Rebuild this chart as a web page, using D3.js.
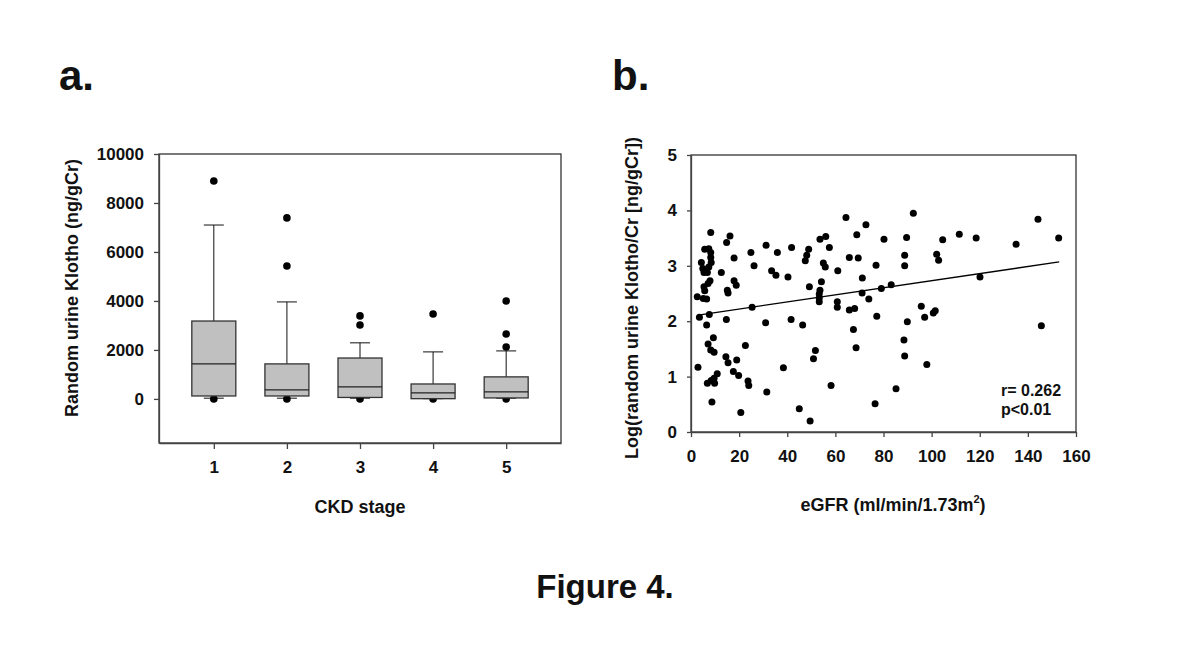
<!DOCTYPE html>
<html lang="en">
<head>
    <meta charset="UTF-8">
    <script src="https://cdn.jsdelivr.net/npm/d3@7"></script>
    <title>Figure 4</title>
    <style>
        body { margin: 0; background: white; }
        svg text { font-family: Arial, "Liberation Sans", sans-serif; font-weight: bold; fill: #111; }
        .axis path, .axis line { stroke: #444; stroke-width: 1.3px; }
        .axis text { font-size: 17px; }
    </style>
</head>
<body>
    <svg id="fig" width="1200" height="662"></svg>
    <script>
        // panel a: box plot of urine Klotho by CKD stage
        const stages = [1, 2, 3, 4, 5];
        const whiskLo = [30, 30, 30, 10, 30];
        const q1 = [120, 120, 60, 10, 40];
        const median = [1430, 370, 490, 245, 290];
        const q3 = [3180, 1430, 1670, 610, 900];
        const whiskHi = [7100, 3960, 2290, 1920, 1960];
        const outliers = [
            [8900, 0],
            [7390, 5430, 0],
            [3390, 3020, 0],
            [3470, 0],
            [4000, 2650, 2120, 0]
        ];
        const aTicks = [0, 2000, 4000, 6000, 8000, 10000];

        // panel b: scatter of log Klotho/Cr vs eGFR
        const egfr = [8.2, 16.2, 14.8, 31.2, 5.7, 7.4, 8.2, 24.9, 17.9, 8.2, 4.3, 8.4, 26.2, 4.9, 7.4, 5.4, 6.8, 12.6, 7.9, 7.1,
            17.9, 18.8, 5.4, 5.7, 15.1, 15.4, 2.6, 5.1, 6.5, 25.4, 3.5, 7.6, 14.7, 31.0, 6.5, 9.3, 7.1, 8.2, 9.6, 22.6,
            14.5, 15.4, 19.0, 2.9, 17.6, 19.8, 10.9, 9.6, 8.4, 6.8, 9.8, 23.7, 24.0, 31.5, 8.7, 20.7,
            35.9, 41.8, 48.9, 48.1, 47.5, 53.6, 56.0, 57.5, 64.4, 72.7, 68.9, 65.8, 69.5, 55.0, 55.8, 61.0, 33.5, 35.3, 40.3, 71.2,
            54.2, 49.2, 53.6, 53.3, 53.3, 53.3, 71.1, 73.9, 60.8, 60.8, 65.8, 68.0, 41.6, 46.4, 67.5, 68.6, 51.7, 50.9, 38.4, 58.2,
            45.0, 49.5,
            92.4, 80.2, 89.6, 104.6, 88.8, 102.1, 102.9, 76.9, 88.8, 79.1, 83.2, 95.7, 97.1, 100.7, 101.5, 77.2, 89.9, 88.5, 88.8, 98.0,
            85.2, 76.5, 111.5, 118.5, 135.1, 144.2, 152.8, 120.1, 145.6];
        const logKlotho = [3.60, 3.54, 3.42, 3.37, 3.30, 3.31, 3.24, 3.24, 3.14, 3.15, 3.06, 3.06, 3.00, 2.95, 2.98, 2.88, 2.88, 2.88, 2.73, 2.68,
            2.73, 2.65, 2.62, 2.55, 2.56, 2.51, 2.44, 2.41, 2.40, 2.25, 2.07, 2.12, 2.03, 1.97, 1.93, 1.70, 1.59, 1.48, 1.44, 1.56,
            1.36, 1.25, 1.30, 1.17, 1.09, 1.02, 1.05, 0.97, 0.93, 0.88, 0.88, 0.92, 0.84, 0.72, 0.54, 0.35,
            3.24, 3.33, 3.30, 3.19, 3.09, 3.48, 3.53, 3.33, 3.87, 3.74, 3.56, 3.15, 3.14, 3.05, 2.98, 2.91, 2.91, 2.83, 2.80, 2.78,
            2.71, 2.62, 2.56, 2.49, 2.42, 2.35, 2.51, 2.40, 2.35, 2.25, 2.20, 2.23, 2.03, 1.93, 1.85, 1.52, 1.47, 1.32, 1.16, 0.84,
            0.42, 0.20,
            3.95, 3.48, 3.51, 3.47, 3.19, 3.21, 3.10, 3.01, 3.00, 2.59, 2.66, 2.27, 2.07, 2.15, 2.19, 2.09, 1.99, 1.66, 1.37, 1.22,
            0.78, 0.51, 3.57, 3.50, 3.39, 3.84, 3.50, 2.80, 1.92];
        const fitX = [3, 153];
        const fitY = [2.11, 3.07];
        const bXTicks = [0, 20, 40, 60, 80, 100, 120, 140, 160];
        const bYTicks = [0, 1, 2, 3, 4, 5];

        const svg = d3.select("#fig");
        const fmt = d3.format("d");

        // ---------- panel a ----------
        const ax = d3.scaleLinear().domain([0.25, 5.75]).range([159, 561]);
        const ay = d3.scaleLinear().domain([-1800, 10000]).range([443, 154]);
        const pa = svg.append("g");

        pa.append("rect")
            .attr("x", 159).attr("y", 154)
            .attr("width", 402).attr("height", 289)
            .attr("fill", "none").attr("stroke", "#222").attr("stroke-width", 1.2);

        pa.append("g").attr("class", "axis")
            .attr("transform", "translate(159,0)")
            .call(d3.axisLeft(ay).tickValues(aTicks).tickFormat(fmt).tickSize(5).tickSizeOuter(0).tickPadding(10));
        pa.append("g").attr("class", "axis")
            .attr("transform", "translate(0,443)")
            .call(d3.axisBottom(ax).tickValues(stages).tickFormat(fmt).tickSize(6).tickSizeOuter(0).tickPadding(12));

        const boxW = 44, capW = 20;
        stages.forEach((s, i) => {
            const cx = ax(s);
            // whiskers
            pa.append("line").attr("x1", cx).attr("x2", cx)
                .attr("y1", ay(whiskHi[i])).attr("y2", ay(q3[i]))
                .attr("stroke", "#111");
            pa.append("line").attr("x1", cx - capW / 2).attr("x2", cx + capW / 2)
                .attr("y1", ay(whiskHi[i])).attr("y2", ay(whiskHi[i]))
                .attr("stroke", "#111");
            pa.append("line").attr("x1", cx - capW / 2).attr("x2", cx + capW / 2)
                .attr("y1", ay(whiskLo[i])).attr("y2", ay(whiskLo[i]))
                .attr("stroke", "#111");
            // outliers under the box
            pa.selectAll(null).data(outliers[i]).enter().append("circle")
                .attr("cx", cx).attr("cy", d => ay(d)).attr("r", 3.8).attr("fill", "#000");
            pa.append("rect")
                .attr("x", cx - boxW / 2).attr("y", ay(q3[i]))
                .attr("width", boxW).attr("height", ay(q1[i]) - ay(q3[i]))
                .attr("fill", "#c0c0c0").attr("stroke", "#333").attr("stroke-width", 1.3);
            pa.append("line").attr("x1", cx - boxW / 2).attr("x2", cx + boxW / 2)
                .attr("y1", ay(median[i])).attr("y2", ay(median[i]))
                .attr("stroke", "#222").attr("stroke-width", 1.3);
        });

        pa.append("text").attr("x", 360).attr("y", 513)
            .attr("text-anchor", "middle").style("font-size", "18px").text("CKD stage");
        pa.append("text").attr("transform", "translate(78,288) rotate(-90)")
            .attr("text-anchor", "middle").style("font-size", "18px").text("Random urine Klotho (ng/gCr)");
        pa.append("text").attr("x", 59).attr("y", 90).style("font-size", "42px").text("a.");

        // ---------- panel b ----------
        const bx = d3.scaleLinear().domain([0, 160]).range([691, 1076]);
        const by = d3.scaleLinear().domain([0, 5]).range([432, 155]);
        const pb = svg.append("g");

        pb.append("rect")
            .attr("x", 691).attr("y", 155)
            .attr("width", 385).attr("height", 277)
            .attr("fill", "none").attr("stroke", "#222").attr("stroke-width", 1.2);

        pb.append("g").attr("class", "axis")
            .attr("transform", "translate(691,0)")
            .call(d3.axisLeft(by).tickValues(bYTicks).tickFormat(fmt).tickSize(4).tickSizeOuter(0).tickPadding(10));
        pb.append("g").attr("class", "axis")
            .attr("transform", "translate(0,432)")
            .call(d3.axisBottom(bx).tickValues(bXTicks).tickFormat(fmt).tickSize(5).tickSizeOuter(0).tickPadding(13));

        pb.selectAll("circle.pt").data(egfr).enter().append("circle")
            .attr("class", "pt")
            .attr("cx", d => bx(d))
            .attr("cy", (d, i) => by(logKlotho[i]))
            .attr("r", 3.5).attr("fill", "#000");

        pb.append("line")
            .attr("x1", bx(fitX[0])).attr("y1", by(fitY[0]))
            .attr("x2", bx(fitX[1])).attr("y2", by(fitY[1]))
            .attr("stroke", "#000").attr("stroke-width", 1.3);

        pb.append("text").attr("x", 1001).attr("y", 396).style("font-size", "16px").text("r= 0.262");
        pb.append("text").attr("x", 1001).attr("y", 415).style("font-size", "16px").text("p<0.01");

        const xl = pb.append("text").attr("x", 893).attr("y", 511)
            .attr("text-anchor", "middle").style("font-size", "18px");
        xl.append("tspan").text("eGFR (ml/min/1.73m");
        xl.append("tspan").attr("dy", -8).style("font-size", "11px").text("2");
        xl.append("tspan").attr("dy", 8).text(")");

        pb.append("text").attr("transform", "translate(638,298) rotate(-90)")
            .attr("text-anchor", "middle").style("font-size", "18px").text("Log(random urine Klotho/Cr [ng/gCr])");
        pb.append("text").attr("x", 612).attr("y", 90).style("font-size", "42px").text("b.");

        svg.append("text").attr("x", 605).attr("y", 598)
            .attr("text-anchor", "middle").style("font-size", "33px").text("Figure 4.");
    </script>
</body>
</html>
